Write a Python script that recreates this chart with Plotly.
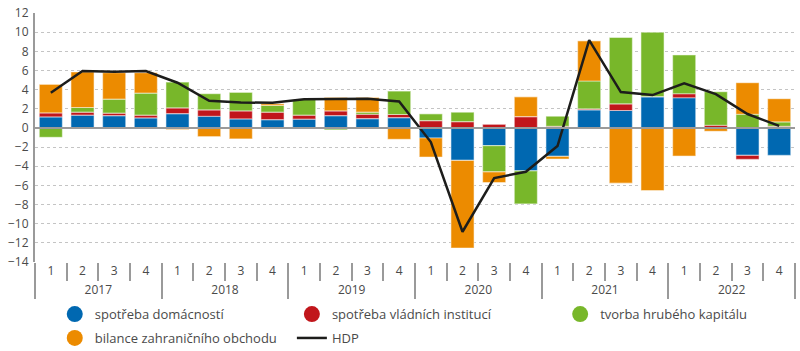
import plotly.graph_objects as go

years = ["2017", "2018", "2019", "2020", "2021", "2022"]
quarters = ["1", "2", "3", "4"]

domacnosti = [1.15, 1.33, 1.29, 1.05,
              1.50, 1.22, 0.94, 0.87,
              0.91, 1.29, 0.98, 1.08,
              -1.05, -3.39, -1.85, -4.48,
              -2.97, 1.89, 1.82, 3.25,
              3.15, -0.05, -2.87, -2.87]
vladni = [0.42, 0.31, 0.25, 0.28,
          0.60, 0.67, 0.84, 0.77,
          0.42, 0.49, 0.45, 0.32,
          0.77, 0.66, 0.38, 1.19,
          0.17, 0.10, 0.70, 0.03,
          0.42, 0.28, -0.42, 0.17]
kapital = [-0.98, 0.49, 1.46, 2.31,
           2.69, 1.68, 1.93, 0.70,
           1.64, -0.20, 0.21, 2.45,
           0.70, 0.98, -2.73, -3.46,
           1.05, 2.91, 6.92, 6.72,
           4.05, 3.50, 1.43, 0.46]
bilance = [2.98, 3.71, 2.77, 2.13,
           -0.17, -0.91, -1.15, 0.18,
           0.00, 1.40, 1.54, -1.19,
           -1.99, -9.16, -1.12, 2.06,
           -0.28, 4.19, -5.77, -6.54,
           -2.94, -0.30, 3.29, 2.42]
hdp = [3.67, 5.94, 5.87, 5.94,
       4.72, 2.83, 2.66, 2.62,
       3.00, 3.04, 3.04, 2.76,
       -1.47, -10.84, -5.24, -4.58,
       -1.89, 9.16, 3.74, 3.43,
       4.65, 3.53, 1.45, 0.21]

names = ["spotřeba domácností", "spotřeba vládních institucí",
         "tvorba hrubého kapitálu", "bilance zahraničního obchodu"]
colors = ["#0068b1", "#c1161b", "#78b72a", "#ec8b00"]
legend_of = ["legend", "legend2", "legend3", "legend"]
series = [domacnosti, vladni, kapital, bilance]

x_year = [y for y in years for _ in quarters]
x_q = [q for _ in years for q in quarters]
x = [x_year, x_q]

FONT = "Open Sans, Lato, sans-serif"
TXT = "#4a4a4a"

fig = go.Figure()
for name, col, vals in zip(names, colors, series):
    fig.add_trace(go.Bar(
        x=x, y=vals, name=name, marker_color=col,
        marker_line=dict(color="rgba(255,255,255,0.45)", width=1.2),
        showlegend=False, hoverinfo="y+name"))

fig.add_trace(go.Scatter(
    x=x, y=hdp, mode="lines", name="HDP",
    line=dict(color="#1d1d1b", width=2.5), showlegend=False))

# legend entries (circle symbols)
for i, (name, col, lg) in enumerate(zip(names, colors, legend_of)):
    fig.add_trace(go.Scatter(
        x=[None], y=[None], mode="markers", name=name,
        marker=dict(symbol="circle", size=16, color=col),
        legend=lg, legendgroup="g%d" % i, showlegend=True))
fig.add_trace(go.Scatter(
    x=[None], y=[None], mode="lines", name="HDP",
    line=dict(color="#1d1d1b", width=2.5), legend="legend2",
    legendgroup="g_hdp", showlegend=True))

fig.add_shape(type="line", xref="paper", yref="y", x0=0, x1=1, y0=0, y1=0,
              line=dict(color="#9a9a9a", width=2), layer="above")

leg_common = dict(orientation="v", font=dict(family=FONT, size=13, color=TXT),
                  bgcolor="rgba(0,0,0,0)", yanchor="top", xanchor="left",
                  itemwidth=30, tracegroupgap=4)

fig.update_layout(
    width=800, height=351,
    margin=dict(l=35, r=5, t=13, b=89, autoexpand=False),
    paper_bgcolor="white", plot_bgcolor="white",
    barmode="relative", bargap=0.27,
    font=dict(family=FONT, size=12, color=TXT),
    legend=dict(x=0.026, y=-0.149, **leg_common),
    legend2=dict(x=0.338, y=-0.149, **leg_common),
    legend3=dict(x=0.691, y=-0.149, **leg_common),
    xaxis=dict(type="multicategory", showgrid=False, zeroline=False,
               showline=False, ticks="outside", tickson="boundaries",
               ticklen=18, tickcolor="#9a9a9a", tickwidth=1.5,
               showdividers=True, dividercolor="#9a9a9a", dividerwidth=1.5,
               tickfont=dict(family=FONT, size=12, color=TXT)),
    yaxis=dict(range=[-14, 12], dtick=2, tick0=0, showgrid=True,
               gridcolor="#c4c4c4", griddash="dot", gridwidth=1,
               zeroline=False, showline=True, linecolor="#9a9a9a",
               linewidth=2, ticks="", ticklabelstandoff=2,
               tickfont=dict(family=FONT, size=12, color=TXT)),
)

fig.write_html("out.html")
